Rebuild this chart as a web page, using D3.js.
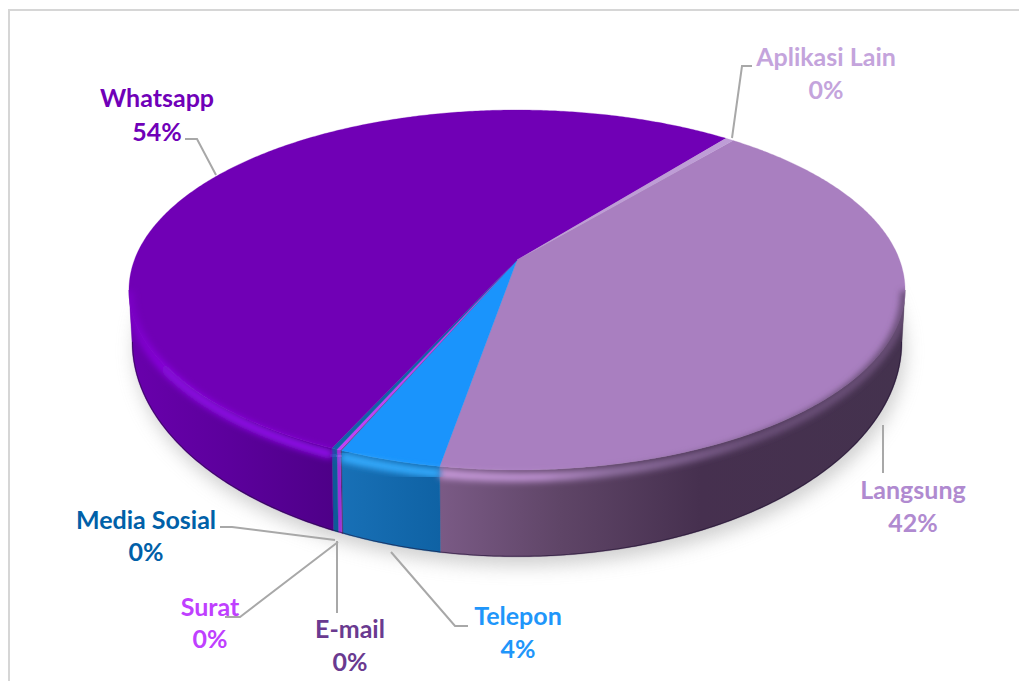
<!DOCTYPE html>
<html><head><meta charset="utf-8">
<script src="https://cdn.jsdelivr.net/npm/d3@7/dist/d3.min.js"></script>
<style>html,body{margin:0;padding:0;background:#fff}svg{display:block}</style>
</head><body><svg id="c" width="1019" height="681"></svg>
<script>
// ---- data
const categories = ["Langsung","Telepon","E-mail","Surat","Media Sosial","Whatsapp","Aplikasi Lain"];
const values     = [41.7,3.65,0.04,0.14,0.2,53.87,0.4];
const labelsPct  = ["42%","4%","0%","0%","0%","54%","0%"];
const faceColors = ["#A97FC0","#1A94FC","#6B3A8E","#C040F8","#0F63A8","#7000B5","#BE9DD6"];
const textColors = ["#B08AD0","#1F96FA","#6A3A90","#BF40FF","#0060A8","#7000B8","#C4A4DC"];
// wall gradients: [x, colour] stops
const wallStops = [
  [[441,"#7A5A85"],[560,"#5F4567"],[700,"#46304F"],[900,"#44324E"]],
  [[341,"#1870B6"],[441,"#0F62A4"]],
  [[335,"#4B2A66"],[338,"#4B2A66"]],
  [[333,"#A030D8"],[338,"#A030D8"]],
  [[330,"#0D5A98"],[335,"#0D5A98"]],
  [[135,"#6800AB"],[230,"#5C009C"],[332,"#4E0088"]],
  [[722,"#A080B0"],[733,"#A080B0"]]
];
const bevelStops = [
  [[441,"#C79ADA"],[540,"#BC90D0"],[610,"#9272A4"],[760,"#6A4F78"],[905,"#6A5078"]],
  [[341,"#34ACFF"],[441,"#34ACFF"]],
  [[335,"#6B3A8E"],[338,"#6B3A8E"]],
  [[333,"#D060FF"],[338,"#D060FF"]],
  [[330,"#1F7CC0"],[335,"#1F7CC0"]],
  [[130,"#7A00C5"],[170,"#8A08E0"],[332,"#9010EA"]],
  [[722,"#BE9DD6"],[733,"#BE9DD6"]]
];
// ---- annotation layout (labels and leader lines)
const labelLayout = {
  "Whatsapp":      {x:157,y:107,y2:141},
  "Aplikasi Lain": {x:826,y:66, y2:99},
  "Langsung":      {x:913,y:499,y2:532},
  "Telepon":       {x:518,y:625,y2:658},
  "E-mail":        {x:350,y:638,y2:671},
  "Surat":         {x:210,y:616,y2:648},
  "Media Sosial":  {x:146,y:529,y2:561}
};
const leaders = [
  [[185,139],[197,139],[216,175]],
  [[752,66],[742,66],[732,138]],
  [[883,425],[883,473]],
  [[391,552],[455,626],[468,626]],
  [[220,527],[232,527],[335,540]],
  [[225,617],[240,617],[338,542]],
  [[337,541],[337,613]]
];
// ---- projection: a tilted disk seen in perspective
const rad = d=>d*Math.PI/180;
const k = 1/6, cx = 517;
const topDisk = {R:382.6,S:175,y0:260};
const lowDisk = {R:379.6,S:209,y0:306};
const bevelDisk = {R:382.6,S:181,y0:260};
const project = (t,d)=>{const u=Math.sin(t),v=-Math.cos(t),w=1-k*v;return [cx+d.R*u/w,d.y0+d.S*v/w];};
const sample = (a,b,d)=>{const n=Math.max(2,Math.ceil((b-a)/rad(0.5)));return d3.range(n+1).map(i=>project(a+(b-a)*i/n,d));};
const FRONT0 = Math.acos(-k), FRONT1 = 2*Math.PI-Math.acos(-k);

const pie = d3.pie().sort(null).startAngle(rad(39.6)).endAngle(rad(399.6));
const arcs = pie(values);
const line = d3.line();
const svg = d3.select("#c");
const defs = svg.append("defs");
[["b8",9],["b3",3],["b05",0.6]].forEach(([id,s])=>defs.append("filter").attr("id",id)
  .attr("x","-20%").attr("y","-20%").attr("width","140%").attr("height","140%")
  .append("feGaussianBlur").attr("stdDeviation",s));
const grad = (id,stops)=>{const g=defs.append("linearGradient").attr("id",id).attr("gradientUnits","userSpaceOnUse")
  .attr("x1",stops[0][0]).attr("x2",stops[stops.length-1][0]).attr("y1",0).attr("y2",0);
  const a=stops[0][0],b=stops[stops.length-1][0];
  stops.forEach(s=>g.append("stop").attr("offset",(s[0]-a)/(b-a)).attr("stop-color",s[1]));};
wallStops.forEach((s,i)=>grad("w"+i,s));
bevelStops.forEach((s,i)=>grad("v"+i,s));

// frame
svg.append("path").attr("d","M9,681V10H1019").attr("fill","none").attr("stroke","#D6D6D6").attr("stroke-width",2);

const fullLow = sample(0,2*Math.PI,lowDisk), fullTop = sample(0,2*Math.PI,topDisk);
// shadow
svg.append("path").attr("d",line(fullLow)+"Z").attr("transform","translate(3,9)")
  .attr("fill","#B0B0B0").attr("opacity",0.6).attr("filter","url(#b8)");

// walls
const wallG = svg.append("g");
arcs.forEach((a,i)=>{
  const s=Math.max(a.startAngle,FRONT0), e=Math.min(a.endAngle,FRONT1);
  if(e<=s) return;
  const pts=sample(s,e,topDisk).concat(sample(s,e,lowDisk).reverse());
  wallG.append("path").attr("d",line(pts)+"Z").attr("fill",`url(#w${i})`).attr("stroke",`url(#w${i})`).attr("stroke-width",0.4);
});

// top faces
const faces = svg.append("g");
arcs.forEach((a,i)=>{
  const pts=[[cx,topDisk.y0]].concat(sample(a.startAngle,a.endAngle,topDisk));
  faces.append("path").attr("d",line(pts)+"Z").attr("fill",faceColors[i]).attr("stroke",faceColors[i]).attr("stroke-width",0.3);
});
// soft bevel on the front rim, and a dark line along the base
defs.append("clipPath").attr("id","sil").append("path")
  .attr("d",line(fullTop)+"Z"+line(sample(FRONT0,FRONT1,topDisk).concat(sample(FRONT0,FRONT1,lowDisk).reverse()))+"Z");
const bevel = svg.append("g").attr("clip-path","url(#sil)");
arcs.forEach((a,i)=>{
  const s=Math.max(a.startAngle,FRONT0), e=Math.min(a.endAngle,FRONT1);
  if(e<=s) return;
  bevel.append("path").attr("d",line(sample(s,e,bevelDisk))).attr("fill","none")
    .attr("stroke",`url(#v${i})`).attr("stroke-width",9).attr("filter","url(#b3)");
});
bevel.append("path").attr("d",line(sample(FRONT0,FRONT1,lowDisk))).attr("fill","none")
  .attr("stroke","#1E1030").attr("stroke-width",2).attr("opacity",0.55).attr("filter","url(#b05)");

// leaders
svg.append("g").selectAll("path").data(leaders).join("path")
  .attr("d",d=>line(d)).attr("fill","none").attr("stroke","#A8A8A8").attr("stroke-width",2);

// labels
const lab = svg.append("g").attr("font-family","Lato, 'Open Sans', sans-serif").attr("font-weight",700)
  .attr("font-size",25).attr("text-anchor","middle");
categories.forEach((c,i)=>{
  const L=labelLayout[c];
  lab.append("text").attr("x",L.x).attr("y",L.y).attr("fill",textColors[i]).text(c);
  lab.append("text").attr("x",L.x).attr("y",L.y2).attr("fill",textColors[i]).text(labelsPct[i]);
});
</script></body></html>
